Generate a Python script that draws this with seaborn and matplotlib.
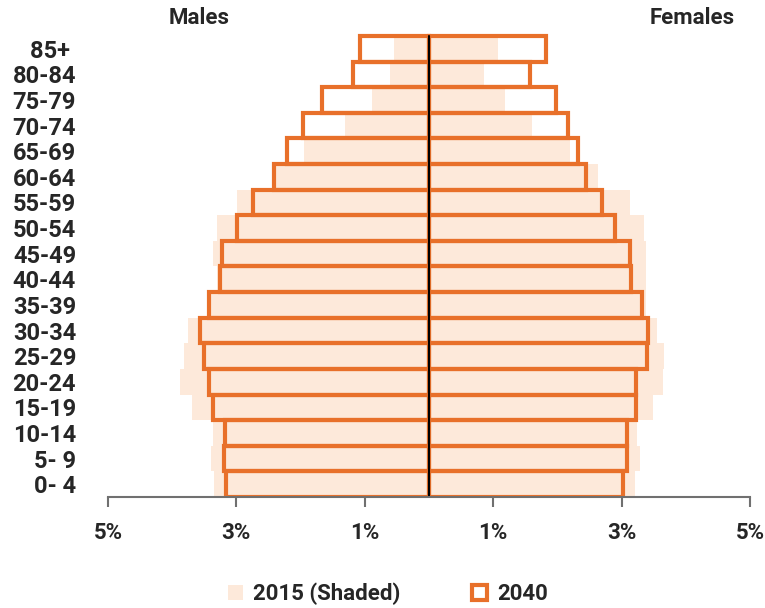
import matplotlib
matplotlib.use("Agg")
import matplotlib.pyplot as plt
from matplotlib.patches import Patch
import seaborn as sns
import pandas as pd

# Age groups, top of the pyramid first
ages = ["85+ ", "80-84", "75-79", "70-74", "65-69", "60-64", "55-59", "50-54",
        "45-49", "40-44", "35-39", "30-34", "25-29", "20-24", "15-19",
        "10-14", "5- 9", "0- 4"]

# Share of total population (%) by age group
male_2015 = [0.55, 0.61, 0.89, 1.31, 1.94, 2.38, 2.99, 3.31, 3.37, 3.30,
             3.42, 3.75, 3.81, 3.88, 3.69, 3.36, 3.39, 3.35]
female_2015 = [1.08, 0.86, 1.19, 1.60, 2.20, 2.64, 3.13, 3.35, 3.38, 3.38,
               3.38, 3.55, 3.66, 3.64, 3.49, 3.24, 3.29, 3.21]
male_2040 = [1.07, 1.19, 1.66, 1.96, 2.21, 2.41, 2.74, 2.99, 3.23, 3.26,
             3.43, 3.56, 3.51, 3.43, 3.37, 3.18, 3.19, 3.16]
female_2040 = [1.83, 1.58, 1.98, 2.16, 2.32, 2.45, 2.69, 2.90, 3.13, 3.14,
               3.31, 3.41, 3.39, 3.23, 3.23, 3.09, 3.09, 3.02]

tick_values = [-5, -3, -1, 1, 3, 5]
tick_labels = ["5%", "3%", "1%", "1%", "3%", "5%"]
legend_labels = ["2015 (Shaded)", "2040"]

ORANGE = "#E8702A"
SHADE = "#FDE9DA"
AXIS_GREY = "#707070"

sns.set_style("white")
plt.rcParams["font.family"] = ["Roboto", "DejaVu Sans"]
plt.rcParams["font.weight"] = "semibold"

df = pd.DataFrame({
    "age": ages,
    "m15": [-v for v in male_2015],
    "f15": female_2015,
    "m40": [-v for v in male_2040],
    "f40": female_2040,
})

fig = plt.figure(figsize=(7.65, 6.08), dpi=100)
ax = fig.add_axes([0.14118, 0.18257, 0.83922, 0.76250])

# 2015 shaded bars
for col in ["m15", "f15"]:
    sns.barplot(data=df, x=col, y="age", order=ages, orient="h", width=1.0,
                color=SHADE, saturation=1, errorbar=None, linewidth=0, ax=ax)

# 2040 outlined bars
for col in ["m40", "f40"]:
    sns.barplot(data=df, x=col, y="age", order=ages, orient="h", width=1.0,
                color=ORANGE, saturation=1, errorbar=None, fill=False,
                linewidth=3.0, ax=ax)

# centre divider
ax.plot([0, 0], [-0.5, len(ages) - 0.5], color="black", lw=1.5, zorder=5)

ax.set_xlim(-5, 5)
ax.set_ylim(len(ages) - 0.5, -0.6)
ax.set_xlabel("")
ax.set_ylabel("")

ax.set_xticks(tick_values)
ax.set_xticklabels(tick_labels, fontsize=16)
ax.tick_params(axis="x", direction="out", length=7.2, width=1.5,
               color=AXIS_GREY, pad=11, bottom=True)
ax.tick_params(axis="y", length=0, pad=23, labelsize=17)

for side in ["left", "right", "top"]:
    ax.spines[side].set_visible(False)
ax.spines["bottom"].set_color(AXIS_GREY)
ax.spines["bottom"].set_linewidth(1.5)
ax.spines["bottom"].set_zorder(6)
ax.grid(False)

fig.text(198.7 / 765, 1 - 18 / 608, "Males", ha="center", va="center",
         fontsize=16)
fig.text(691.7 / 765, 1 - 18 / 608, "Females", ha="center", va="center",
         fontsize=16)

handles = [
    Patch(facecolor=SHADE, edgecolor="none"),
    Patch(facecolor="white", edgecolor=ORANGE, linewidth=3),
]
fig.legend(handles, legend_labels, loc="center",
           bbox_to_anchor=(0.507, 1 - 594 / 608), ncol=2, frameon=False,
           fontsize=16, handlelength=0.7, handleheight=0.7,
           handletextpad=0.45, columnspacing=3.2, borderpad=0)

fig.savefig("out.png", dpi=100)
